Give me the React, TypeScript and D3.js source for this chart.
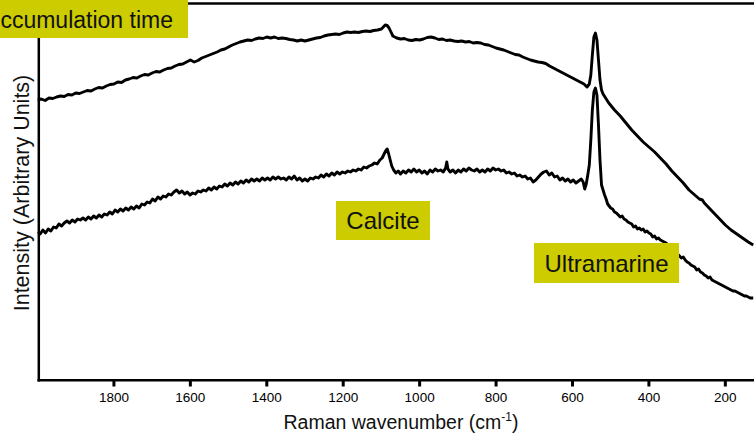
import React from "react";
import * as d3 from "d3";

// Raman spectra: [wavenumber (cm-1), intensity (arbitrary units)]
const upperSpectrum: [number, number][] = [
  [2000,280],[1990,281],[1980,279.5],[1970,282],[1960,281.5],[1950,283],[1940,284],[1930,283.5],[1920,285.5],[1910,285],
  [1900,287],[1890,286.5],[1880,288],[1870,289.5],[1860,289],[1850,291],[1840,292.5],[1830,292],[1820,294],[1810,295.5],
  [1800,296],[1790,298],[1780,297.5],[1770,300],[1760,301],[1750,302.5],[1740,302],[1730,304],[1720,305.5],[1710,305],
  [1700,307],[1690,308.5],[1680,308],[1670,310],[1660,311.5],[1650,312],[1640,314],[1630,315.5],[1620,316],[1610,318],
  [1600,320],[1590,318],[1580,319.5],[1570,322],[1560,323.5],[1550,325],[1540,326.5],[1530,328],[1520,330],[1510,331],
  [1500,333],[1490,335],[1480,336.5],[1470,338],[1460,339],[1450,340],[1440,339.5],[1430,341],[1420,342],[1410,341.5],
  [1400,343],[1390,342],[1380,343],[1370,341.5],[1360,342],[1350,341.5],[1340,340.5],[1330,340],[1320,339],[1310,340],
  [1300,339],[1290,340],[1280,341],[1270,342],[1260,342.5],[1250,344],[1240,345],[1230,345.5],[1220,346],[1210,345.5],
  [1200,347],[1190,348],[1180,347.5],[1170,348],[1160,347.5],[1150,348.5],[1140,349],[1130,348.5],[1120,349.5],[1110,350],
  [1100,351],[1095,353],[1090,355],[1085,354.5],[1080,352],[1075,348],[1070,344],[1060,342],[1050,341],[1040,341.5],
  [1030,340],[1020,339.5],[1010,340.5],[1000,340],[990,341],[980,342.5],[970,343],[960,342],[950,340.5],[940,341],
  [930,339.5],[920,340],[910,339],[900,338.5],[890,339],[880,338],[870,338.5],[860,337],[850,337.5],[840,337],
  [830,335.5],[820,335],[810,333.5],[800,332],[790,331],[780,330],[770,328.5],[760,327],[750,325.5],[740,325],
  [730,323],[720,321.5],[710,320],[700,319],[690,318],[680,317.5],[670,316.5],[660,314],[650,312],[640,310],
  [630,308],[620,306],[610,304],[600,302],[590,300],[580,298],[570,296],[562,293],[556,296],[552,305],
  [548,325],[544,343],[540,347],[536,340],[532,320],[528,300],[524,290],[520,286],[505,277],[490,270],
  [475,264],[460,257],[445,250],[430,244],[415,238],[400,233],[385,228],[370,222],[355,216],[340,209],
  [325,203],[310,197],[295,190],[280,185],[268,181],[260,180],[255,177],[245,173],[230,167],[215,161],
  [200,155],[185,150],[170,146],[155,142],[140,138],[127,135]
];

const lowerSpectrum: [number, number][] = [
  [2000,148],[1993,146],[1986,150],[1979,147],[1972,151],[1965,149],[1958,153],[1951,152],[1944,156],[1937,154],
  [1930,157],[1923,159],[1916,157],[1909,160],[1902,158],[1895,161],[1888,160],[1881,162],[1874,160],[1867,163],
  [1860,161],[1853,164],[1846,162],[1839,165],[1832,163],[1825,166],[1818,165],[1811,168],[1804,166],[1797,170],
  [1790,168],[1783,171],[1776,169],[1769,172],[1762,170],[1755,173],[1748,171],[1741,174],[1734,172],[1727,176],
  [1720,175],[1713,178],[1706,177],[1699,181],[1692,179],[1685,183],[1678,181],[1671,184],[1664,183],[1657,186],
  [1650,185],[1643,188],[1636,190],[1629,187],[1622,189],[1615,186],[1608,188],[1601,185],[1594,187],[1587,186],
  [1580,189],[1573,188],[1566,190],[1559,189],[1552,192],[1545,190],[1538,193],[1531,191],[1524,194],[1517,193],
  [1510,196],[1503,194],[1496,197],[1489,195],[1482,198],[1475,196],[1468,199],[1461,197],[1454,200],[1447,198],
  [1440,201],[1433,199],[1426,201],[1419,199],[1412,202],[1405,200],[1398,202],[1391,200],[1384,203],[1377,201],
  [1370,203],[1363,201],[1356,202],[1349,200],[1342,203],[1335,201],[1328,204],[1321,200],[1314,202],[1307,199],
  [1300,201],[1293,199],[1286,202],[1279,201],[1272,203],[1265,202],[1258,205],[1251,203],[1244,206],[1237,204],
  [1230,207],[1223,205],[1216,208],[1209,206],[1202,208],[1195,207],[1188,209],[1181,208],[1174,210],[1167,209],
  [1160,211],[1153,210],[1146,213],[1139,212],[1132,214],[1125,215],[1118,217],[1111,216],[1104,220],[1098,222],
  [1093,226],[1089,229],[1085,231],[1081,226],[1077,220],[1073,214],[1068,210],[1062,207],[1056,209],[1050,206],
  [1043,209],[1036,207],[1029,210],[1022,208],[1015,211],[1008,208],[1001,210],[994,207],[987,209],[980,206],
  [973,210],[966,208],[959,211],[952,209],[945,210],[938,208],[932,212],[929,218],[926,211],[920,208],
  [913,210],[906,207],[899,210],[892,208],[885,211],[878,209],[871,212],[864,210],[857,209],[850,211],
  [843,208],[836,210],[829,208],[822,211],[815,209],[808,212],[801,210],[794,211],[787,209],[780,210],
  [773,207],[766,208],[759,206],[752,207],[745,204],[738,205],[731,203],[724,204],[717,201],[710,202],
  [703,198],[696,200],[689,203],[682,206],[675,208],[668,209],[661,205],[654,207],[647,203],[640,204],
  [633,200],[626,202],[619,199],[612,201],[605,198],[598,200],[591,197],[584,199],[577,201],[572,198],
  [568,191],[564,196],[560,205],[556,215],[552,240],[548,270],[544,288],[540,292],[536,285],[532,255],
  [528,220],[524,195],[520,190],[516,185],[512,181],[508,176],[504,174],[500,172],[495,171],[490,168],
  [485,167],[480,165],[475,163],[470,164],[465,161],[460,160],[455,158],[450,157],[445,156],[440,153],
  [435,154],[430,151],[425,152],[420,150],[415,151],[410,148],[405,149],[400,147],[395,146],[390,143],
  [385,144],[380,141],[375,142],[370,140],[365,139],[360,138],[355,137],[350,135],[345,133],[340,131],
  [335,130],[330,127],[325,126],[320,124],[315,122],[310,123],[305,120],[300,118],[295,117],[290,115],
  [285,114],[280,113],[275,110],[270,111],[265,108],[260,107],[255,105],[250,104],[245,102],[240,103],
  [235,100],[230,99],[225,98],[220,97],[215,96],[210,95],[205,94],[200,93],[195,92],[190,91],
  [185,90],[180,89],[175,89],[170,88],[165,87],[160,86],[155,85],[150,84],[145,84],[140,83],
  [135,82],[127,82]
];

const xTicks = [1800, 1600, 1400, 1200, 1000, 800, 600, 400, 200];
const xDomain: [number, number] = [2000, 125];
const yDomain: [number, number] = [0, 377];

const FONT = "'Liberation Sans', Arial, Helvetica, sans-serif";
const LABEL_BG = "#cccc00";

export default function App() {
  const W = 754, H = 439;
  const left = 37.5, right = 754, top = 3, bottom = 380;
  const x = d3.scaleLinear().domain(xDomain).range([left, right]);
  const y = d3.scaleLinear().domain(yDomain).range([bottom, top]);
  const line = d3.line<[number, number]>().x(d => x(d[0])).y(d => y(d[1]));

  return (
    <svg width={W} height={H} style={{ position: "absolute", left: 0, top: 0, background: "#fff" }} fontFamily={FONT}>
      <defs>
        <clipPath id="plotClip">
          <rect x={left} y={0} width={right - left} height={bottom} />
        </clipPath>
      </defs>
      {/* frame */}
      <line x1={left} x2={W} y1={3.5} y2={3.5} stroke="#000" strokeWidth={2.5} />
      <line x1={38.8} x2={38.8} y1={0} y2={381.5} stroke="#000" strokeWidth={2.5} />
      <line x1={37.5} x2={W} y1={380.3} y2={380.3} stroke="#000" strokeWidth={2.5} />
      {xTicks.map(t => (
        <g key={t}>
          <line x1={x(t)} x2={x(t)} y1={380} y2={386.5} stroke="#000" strokeWidth={3} />
          <text x={x(t)} y={402} textAnchor="middle" fontSize={13.5} fill="#000">{t}</text>
        </g>
      ))}
      {/* spectra */}
      <g clipPath="url(#plotClip)" fill="none" stroke="#000" strokeWidth={2.9} strokeLinejoin="round">
        <path d={line(upperSpectrum) || ""} />
        <path d={line(lowerSpectrum) || ""} />
      </g>
      {/* axis titles */}
      <text x={401} y={429} textAnchor="middle" fontSize={19.5} fill="#111">
        Raman wavenumber (cm<tspan fontSize={12} dy={-8}>-1</tspan><tspan dy={8}>)</tspan>
      </text>
      <text transform="translate(29,193) rotate(-90)" textAnchor="middle" fontSize={21.5} fill="#111">
        Intensity (Arbitrary Units)
      </text>
      {/* annotation boxes */}
      <rect x={-30} y={-5} width={218} height={43} fill={LABEL_BG} />
      <text x={173} y={27.5} textAnchor="end" fontSize={23} fill="#111">ccumulation time</text>
      <rect x={336} y={201} width={94} height={39} fill={LABEL_BG} />
      <text x={383} y={229.3} textAnchor="middle" fontSize={24} fill="#111">Calcite</text>
      <rect x={534} y={243} width={145} height={40} fill={LABEL_BG} />
      <text x={606.5} y={271.7} textAnchor="middle" fontSize={24} fill="#111">Ultramarine</text>
    </svg>
  );
}
